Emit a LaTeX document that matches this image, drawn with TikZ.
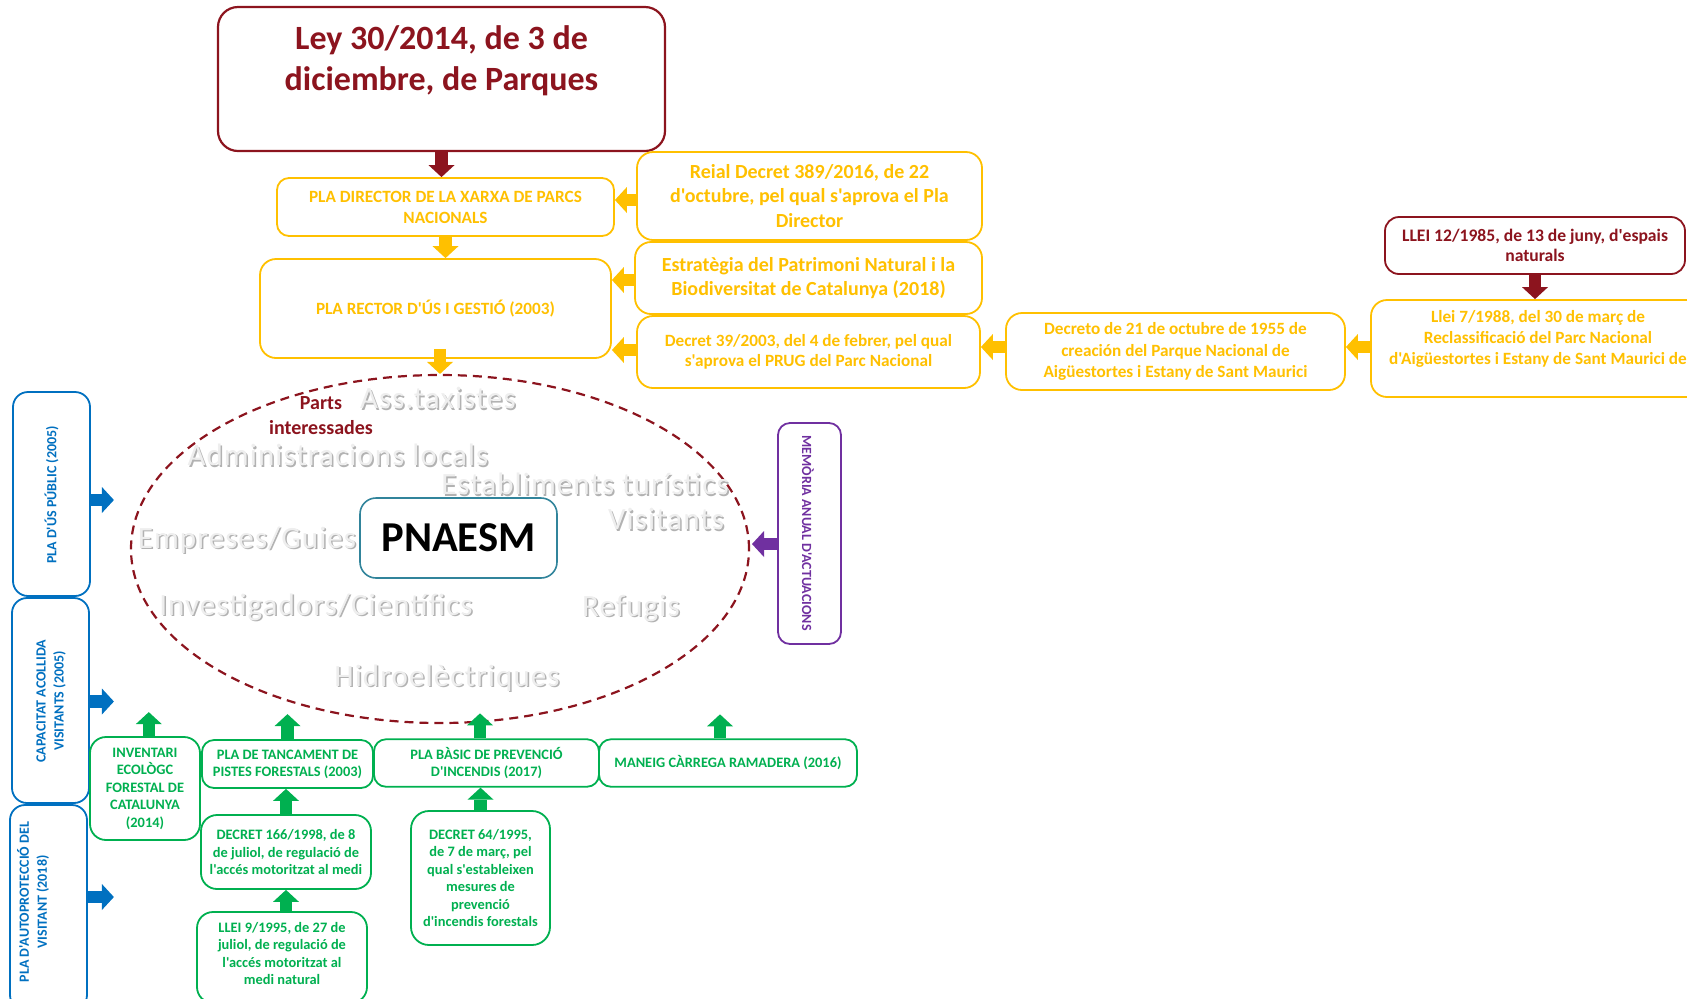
\documentclass[tikz,border=0pt]{standalone}
\usepackage{fontspec}
\setmainfont{Carlito}[Ligatures=TeXOff]
\newfontfamily\greyfont{Carlito}[Ligatures=TeXOff,LetterSpace=3.5]
\usetikzlibrary{arrows.meta,shapes.geometric}
\definecolor{dred}{RGB}{140,20,30}
\definecolor{yel}{RGB}{255,192,0}
\definecolor{blu}{RGB}{0,112,192}
\definecolor{grn}{RGB}{0,176,80}
\definecolor{pur}{RGB}{112,48,160}
\definecolor{pteal}{RGB}{49,132,155}
\definecolor{gshade}{RGB}{178,178,178}
\definecolor{gtext}{RGB}{238,238,238}
\newcommand{\fsz}[2]{\fontsize{#1}{#2}\selectfont}
\newcommand{\gwd}[4]{\node[gsh] (#3s) at (#1+1.5,#2+1.5) {#4};\node[gtx] (#3) at (#1,#2) {#4};}
\begin{document}
\begin{tikzpicture}[x=0.5pt,y=-0.5pt,
  bx/.style={rounded corners=6pt, line width=0.9pt, align=center, inner sep=0pt, font=\bfseries, fill=white},
  ybx/.style={bx, draw=yel, text=yel},
  rbx/.style={bx, draw=dred, text=dred},
  gbx/.style={bx, draw=grn, text=grn, font=\bfseries\fsz{7.2}{8.6}},
  bbx/.style={bx, draw=blu, rounded corners=7.5pt},
  btx/.style={text=blu, font=\bfseries\fsz{7}{9}, align=center, rotate=90, inner sep=0pt},
  barrow/.style={line width=6.25pt, -{Triangle[width=13pt,length=6pt,line width=0pt]}},
  gsh/.style={text=gshade, font=\greyfont\fsz{15.5}{15.5}, inner sep=0pt},
  gtx/.style={gsh, text=gtext}]
\path[use as bounding box] (0,0) rectangle (1687,998);
\clip (0,0) rectangle (1687,998);

% ---- stakeholders ellipse
\node[ellipse, draw=dred, dash pattern=on 4.5pt off 3pt, line width=1.1pt,
      minimum width=309pt, minimum height=174pt, inner sep=0pt] (ell) at (440,549) {};
\gwd{438}{398}{w1}{Ass.taxistes}
\gwd{338}{455}{w2}{Administracions locals}
\gwd{585}{484}{w3}{Establiments turístics}
\gwd{666}{519}{w4}{Visitants}
\gwd{247}{540}{w5}{Empreses/Guies}
\gwd{316}{607}{w6}{Investigadors/Científics}
\gwd{631}{608}{w7}{Refugis}
\gwd{447}{678}{w8}{Hidroelèctriques}
\node[text=dred, font=\bfseries\fsz{10}{12.5}, align=center, inner sep=0pt] (parts) at (321,416) {Parts\\interessades};
\node[draw=pteal, line width=0.8pt, rounded corners=8pt, fill=white, minimum width=98.5pt,
      minimum height=40pt, inner sep=0pt, font=\bfseries\fsz{21.3}{24}] (pn) at (458.5,538) {PNAESM};

% ---- top chain
\node[rbx, line width=1.1pt, rounded corners=10pt, minimum width=223.5pt, minimum height=72pt] (ley) at (441.5,79) {};
\node[text=dred, font=\bfseries\fsz{17}{20.5}, align=center, inner sep=0pt] (leyt) at (441.5,61) {Ley 30/2014, de 3 de\\diciembre, de Parques};
\node[ybx, font=\bfseries\fsz{8.6}{10.5}, minimum width=168.5pt, minimum height=29pt] (pladir) at (445.5,207) {PLA DIRECTOR DE LA XARXA DE PARCS\\NACIONALS};
\node[ybx, font=\bfseries\fsz{8.6}{10.5}, rounded corners=8pt, minimum width=175.5pt, minimum height=49.5pt] (rector) at (435.5,308.5) {PLA RECTOR D'ÚS I GESTIÓ (2003)};
\node[ybx, font=\bfseries\fsz{10}{12.2}, rounded corners=8pt, minimum width=172.5pt, minimum height=44pt] (reial) at (809.5,196) {Reial Decret 389/2016, de 22\\d'octubre, pel qual s'aprova el Pla\\Director};
\node[ybx, font=\bfseries\fsz{10}{11.7}, rounded corners=8pt, minimum width=173.5pt, minimum height=36pt] (estr) at (808.5,278) {Estratègia del Patrimoni Natural i la\\Biodiversitat de Catalunya (2018)};
\node[ybx, font=\bfseries\fsz{8.6}{10}, rounded corners=8pt, minimum width=171.5pt, minimum height=36pt] (d39) at (808.5,352) {Decret 39/2003, del 4 de febrer, pel qual\\s'aprova el PRUG del Parc Nacional};
\node[ybx, font=\bfseries\fsz{8.6}{10.8}, rounded corners=8pt, minimum width=169.5pt, minimum height=38.5pt] (d55) at (1175.5,351.5) {Decreto de 21 de octubre de 1955 de\\creación del Parque Nacional de\\Aigüestortes i Estany de Sant Maurici};
\node[ybx, rounded corners=8pt, minimum width=167pt, minimum height=48.5pt] (llei7) at (1538,348.5) {};
\node[text=yel, font=\bfseries\fsz{8.6}{10.5}, align=center, inner sep=0pt] (llei7t) at (1538,339) {Llei 7/1988, del 30 de març de\\Reclassificació del Parc Nacional\\d'Aigüestortes i Estany de Sant Maurici de};
\node[rbx, font=\bfseries\fsz{8.8}{10.2}, rounded corners=7pt, minimum width=150pt, minimum height=28.5pt] (l12) at (1535,245.5) {LLEI 12/1985, de 13 de juny, d'espais\\naturals};

\coordinate (ya) at (0,200);
\coordinate (yb) at (0,280);
\coordinate (yc) at (0,350);
\coordinate (yd) at (0,347);
\coordinate (rs) at ([yshift=5pt]rector.south);
\draw[barrow, dred] (ley.south) -- (ley.south |- pladir.north);
\draw[barrow, yel] (pladir.south) -- (pladir.south |- rector.north);
\draw[barrow, yel] (ell.north |- rs) -- (ell.north);
\draw[barrow, yel] (reial.west |- ya) -- (pladir.east |- ya);
\draw[barrow, yel] (estr.west |- yb) -- (rector.east |- yb);
\draw[barrow, yel] (d39.west |- yc) -- (rector.east |- yc);
\draw[barrow, yel] (d55.west |- yd) -- (d39.east |- yd);
\draw[barrow, yel] (llei7.west |- yd) -- (d55.east |- yd);
\draw[barrow, dred] (l12.south) -- (l12.south |- llei7.north);

% ---- memoria
\node[bx, draw=pur, minimum width=31.5pt, minimum height=110.5pt] (mem) at (809.5,533.5) {};
\node[text=pur, font=\bfseries\fsz{7}{8}, rotate=-90, inner sep=0pt] (memt) at (808,533) {MEMÒRIA ANUAL D'ACTUACIONS};
\coordinate (pa) at (752,544);
\draw[barrow, pur] (mem.west |- pa) -- (pa);

% ---- blue plans
\node[bbx, minimum width=38.5pt, minimum height=102pt] (pu) at (51.5,494) {};
\node[btx] (put) at (51.5,495) {PLA D'ÚS PÚBLIC (2005)};
\node[bbx, minimum width=38.5pt, minimum height=102.5pt] (ca) at (50.5,700.5) {};
\node[btx] (cat) at (51,701) {CAPACITAT ACOLLIDA\\VISITANTS (2005)};
\node[bbx, minimum width=38.5pt, minimum height=102.5pt] (au) at (48.5,907.5) {};
\node[btx] (aut) at (33,902) {PLA D'AUTOPROTECCIÓ DEL\\VISITANT (2018)};
\draw[barrow, blu] ([yshift=-3pt]pu.east) -- ++(23,0);
\draw[barrow, blu] ([yshift=-0.5pt]ca.east) -- ++(24,0);
\draw[barrow, blu] ([yshift=5.25pt]au.east) -- ++(26,0);

% ---- green plans
\node[gbx, rounded corners=8pt, minimum width=55pt, minimum height=51.5pt, font=\bfseries\fsz{7.2}{8.75}] (inv) at (145,788.5) {INVENTARI\\ECOLÒGC\\FORESTAL DE\\CATALUNYA\\(2014)};
\node[gbx, minimum width=85.5pt, minimum height=24pt] (tanc) at (287.5,764) {PLA DE TANCAMENT DE\\PISTES FORESTALS (2003)};
\node[gbx, minimum width=112.5pt, minimum height=23.75pt] (basic) at (486.5,763) {PLA BÀSIC DE PREVENCIÓ\\D'INCENDIS (2017)};
\node[gbx, minimum width=129pt, minimum height=23.75pt] (maneig) at (728,763) {MANEIG CÀRREGA RAMADERA (2016)};
\node[gbx, rounded corners=8pt, minimum width=85pt, minimum height=37pt] (d166) at (286,852) {DECRET 166/1998, de 8\\de juliol, de regulació de\\l'accés motoritzat al medi};
\node[gbx, rounded corners=8pt, minimum width=85pt, minimum height=45.5pt] (l9) at (282,957.5) {};
\node[text=grn, font=\bfseries\fsz{7.2}{8.7}, align=center, inner sep=0pt] (l9t) at (282,953.5) {LLEI 9/1995, de 27 de\\juliol, de regulació de\\l'accés motoritzat al\\medi natural};
\node[gbx, rounded corners=9pt, minimum width=69.5pt, minimum height=67pt, font=\bfseries\fsz{7.2}{8.7}] (d64) at (480.5,878) {DECRET 64/1995,\\de 7 de març, pel\\qual s'estableixen\\mesures de\\prevenció\\d'incendis forestals};

\draw[barrow, grn] ([xshift=1.9pt]inv.north) -- ++(0,-24);
\draw[barrow, grn] (tanc.north) -- ++(0,-25);
\draw[barrow, grn] ([xshift=-3.25pt]basic.north) -- ++(0,-25);
\draw[barrow, grn] ([xshift=-4pt]maneig.north) -- ++(0,-24);
\draw[barrow, grn] (d166.north) -- (d166.north |- tanc.south);
\draw[barrow, grn] (d166.south |- l9.north) -- (d166.south);
\draw[barrow, grn] (d64.north) -- (d64.north |- basic.south);
\end{tikzpicture}
\end{document}
